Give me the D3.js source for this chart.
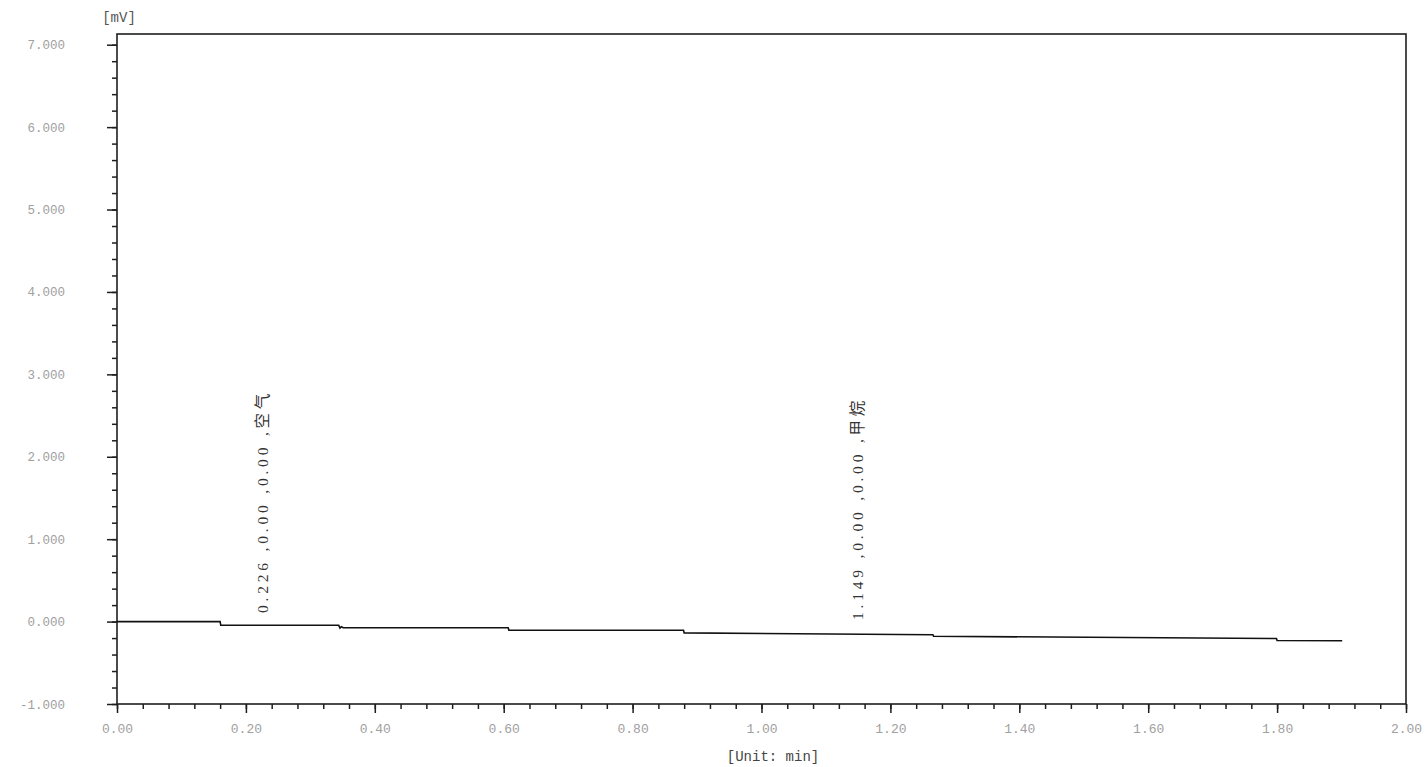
<!DOCTYPE html>
<html>
<head>
<meta charset="utf-8">
<script src="https://cdn.jsdelivr.net/npm/d3@7"></script>
<style>
  html, body { margin: 0; padding: 0; background: #fff; }
  svg { display: block; }
</style>
</head>
<body>
<svg id="chart" width="1426" height="767"></svg>
<script>
// Chromatogram trace: retention time (min) and detector signal (mV)
const traceTime   = [0.000, 0.160, 0.161, 0.344, 0.346, 0.348, 0.351, 0.607, 0.608, 0.879, 0.880, 1.266, 1.267, 1.799, 1.800, 1.901];
const traceSignal = [0.000, 0.000, -0.045, -0.045, -0.078, -0.062, -0.075, -0.075, -0.105, -0.105, -0.137, -0.160, -0.178, -0.206, -0.230, -0.232];

// Identified peaks: retention time, two result fields, component name
const peakTime  = [0.226, 1.149];
const peakAreaA = ["0.00", "0.00"];
const peakAreaB = ["0.00", "0.00"];
const peakName  = ["空气", "甲烷"];

// Axis tick values and labels
const yTickValues = [-1, 0, 1, 2, 3, 4, 5, 6, 7];
const yTickLabels = ["-1.000", "0.000", "1.000", "2.000", "3.000", "4.000", "5.000", "6.000", "7.000"];
const xTickValues = [0, 0.2, 0.4, 0.6, 0.8, 1.0, 1.2, 1.4, 1.6, 1.8, 2.0];
const xTickLabels = ["0.00", "0.20", "0.40", "0.60", "0.80", "1.00", "1.20", "1.40", "1.60", "1.80", "2.00"];
const yUnit = "[mV]";
const xUnit = "[Unit: min]";

const svg = d3.select("#chart");
const plot = { left: 117, right: 1406, top: 34, bottom: 704 };

const x = d3.scaleLinear().domain([0, 2]).range([plot.left, plot.right]);
const y = d3.scaleLinear().domain([-1, 7.13]).range([plot.bottom, plot.top]);

const axisColor = "#1e1e1e";
const labelColor = "#a0a0a0";
const monoFont = "'Liberation Mono', 'DejaVu Sans Mono', monospace";
const serifFont = "'Liberation Serif', 'Noto Sans CJK SC', serif";

// Frame around the plotting area
svg.append("rect")
  .attr("x", plot.left).attr("y", plot.top)
  .attr("width", plot.right - plot.left).attr("height", plot.bottom - plot.top)
  .attr("fill", "none").attr("stroke", axisColor).attr("stroke-width", 1.6);

// Y axis: minor ticks every 0.2 mV, major ticks + labels every 1 mV
const yMinor = d3.range(-1, 7.0001, 0.2).map(v => +v.toFixed(2));
const yAxisMinor = d3.axisLeft(y).tickValues(yMinor).tickSize(5).tickFormat("");
const yAxisMajor = d3.axisLeft(y).tickValues(yTickValues).tickSize(10)
  .tickFormat((d, i) => yTickLabels[i]).tickPadding(42);

[yAxisMinor, yAxisMajor].forEach(ax => {
  const g = svg.append("g").attr("transform", `translate(${plot.left},0)`).call(ax);
  g.select(".domain").remove();
  g.selectAll(".tick line").attr("stroke", axisColor).attr("stroke-width", 1.5);
  g.selectAll("text")
    .attr("fill", labelColor)
    .style("font-family", monoFont)
    .style("font-size", "12.5px");
});

// X axis: minor ticks every 0.04 min, major ticks + labels every 0.2 min
const xMinor = d3.range(0, 2.0001, 0.04).map(v => +v.toFixed(2));
const xAxisMinor = d3.axisBottom(x).tickValues(xMinor).tickSize(5).tickFormat("");
const xAxisMajor = d3.axisBottom(x).tickValues(xTickValues).tickSize(9)
  .tickFormat((d, i) => xTickLabels[i]).tickPadding(11);

[xAxisMinor, xAxisMajor].forEach(ax => {
  const g = svg.append("g").attr("transform", `translate(0,${plot.bottom})`).call(ax);
  g.select(".domain").remove();
  g.selectAll(".tick line").attr("stroke", axisColor).attr("stroke-width", 1.5);
  g.selectAll("text")
    .attr("fill", labelColor)
    .style("font-family", monoFont)
    .style("font-size", "13px");
});

// Unit labels
svg.append("text")
  .attr("x", 119).attr("y", 18)
  .attr("text-anchor", "middle").attr("dominant-baseline", "middle")
  .attr("fill", "#555")
  .style("font-family", monoFont).style("font-size", "14px")
  .text(yUnit);

svg.append("text")
  .attr("x", 773).attr("y", 757)
  .attr("text-anchor", "middle").attr("dominant-baseline", "middle")
  .attr("fill", "#444")
  .style("font-family", monoFont).style("font-size", "14px")
  .text(xUnit);

// Detector trace
const line = d3.line()
  .x(i => x(traceTime[i]))
  .y(i => y(traceSignal[i]));

svg.append("path")
  .datum(d3.range(traceTime.length))
  .attr("d", line)
  .attr("fill", "none")
  .attr("stroke", "#111")
  .attr("stroke-width", 1.6);

// Vertical peak annotations, reading bottom to top
const peakBase = [613, 620];
peakTime.forEach((t, i) => {
  svg.append("text")
    .attr("transform", `translate(${x(t)},${peakBase[i]}) rotate(-90)`)
    .attr("text-anchor", "start")
    .attr("dominant-baseline", "central")
    .attr("fill", "#333")
    .style("font-family", serifFont)
    .style("font-size", "15.5px")
    .style("letter-spacing", "3.8px")
    .text(`${t.toFixed(3)} ,${peakAreaA[i]} ,${peakAreaB[i]} ,${peakName[i]}`);
});
</script>
</body>
</html>
